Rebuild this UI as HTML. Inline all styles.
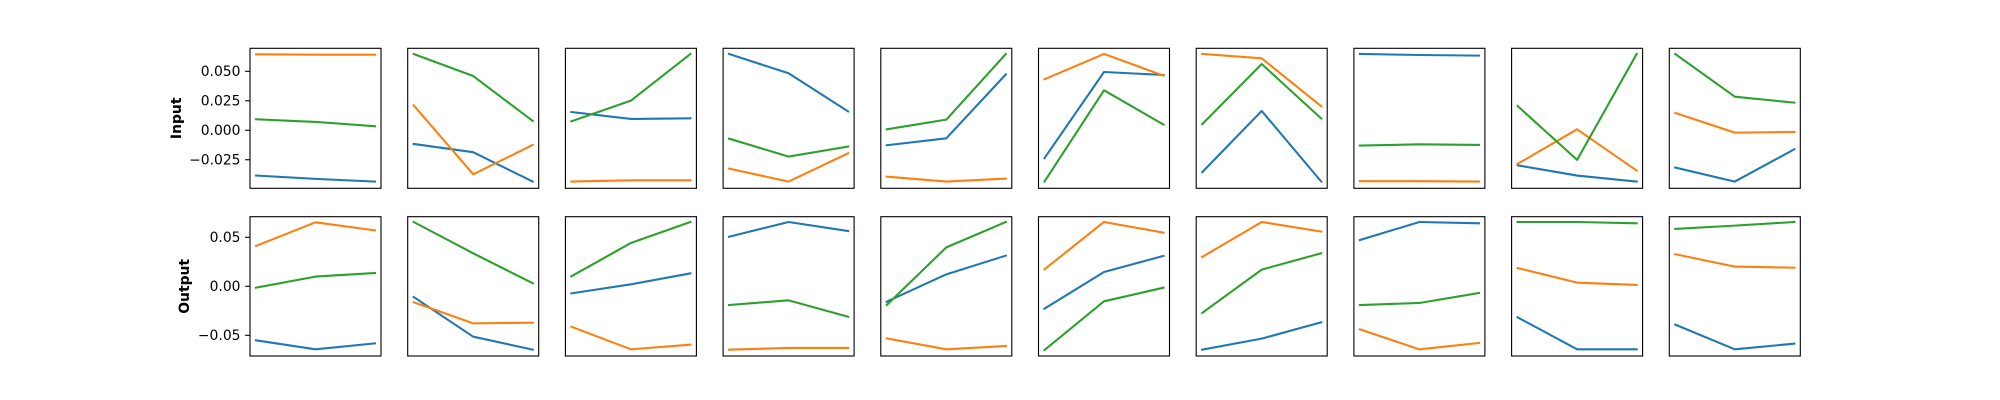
<!DOCTYPE html>
<html><head><meta charset="utf-8"><style>
html,body{margin:0;padding:0;background:#fff;width:2000px;height:400px;overflow:hidden}
text{font-family:"DejaVu Sans","Liberation Sans",sans-serif}
</style></head><body>
<svg id="chart" width="2000" height="400" xmlns="http://www.w3.org/2000/svg"></svg>
<script>
// data: [panel][point] for each series, rows "Input" and "Output"
const rowLabels = ["Input", "Output"];
const inputBlue   = [[-0.0384,-0.0412,-0.0435],[-0.0116,-0.0186,-0.0435],[0.0155,0.0096,0.0101],[0.0647,0.0483,0.0160],[-0.0127,-0.0068,0.0474],[-0.0237,0.0494,0.0469],[-0.0356,0.0164,-0.0435],[0.0647,0.0638,0.0633],[-0.0297,-0.0384,-0.0435],[-0.0316,-0.0435,-0.0161]];
const inputOrange = [[0.0644,0.0641,0.0641],[0.0212,-0.0373,-0.0124],[-0.0435,-0.0424,-0.0424],[-0.0325,-0.0435,-0.0195],[-0.0393,-0.0435,-0.0410],[0.0432,0.0647,0.0463],[0.0647,0.0610,0.0203],[-0.0432,-0.0432,-0.0435],[-0.0285,0.0008,-0.0342],[0.0147,-0.0020,-0.0014]];
const inputGreen  = [[0.0093,0.0071,0.0034],[0.0647,0.0460,0.0079],[0.0076,0.0251,0.0647],[-0.0071,-0.0223,-0.0138],[0.0008,0.0090,0.0647],[-0.0435,0.0339,0.0048],[0.0051,0.0562,0.0099],[-0.0130,-0.0119,-0.0124],[0.0206,-0.0251,0.0647],[0.0647,0.0285,0.0234]];
const outputBlue   = [[-0.0551,-0.0643,-0.0582],[-0.0109,-0.0514,-0.0646],[-0.0072,0.0020,0.0132],[0.0506,0.0656,0.0564],[-0.0157,0.0122,0.0313],[-0.0228,0.0146,0.0310],[-0.0646,-0.0534,-0.0367],[0.0472,0.0656,0.0643],[-0.0316,-0.0643,-0.0643],[-0.0391,-0.0643,-0.0585]];
const outputOrange = [[0.0412,0.0653,0.0571],[-0.0163,-0.0378,-0.0371],[-0.0412,-0.0643,-0.0595],[-0.0646,-0.0629,-0.0629],[-0.0531,-0.0643,-0.0609],[0.0173,0.0656,0.0547],[0.0299,0.0656,0.0558],[-0.0439,-0.0643,-0.0578],[0.0187,0.0037,0.0014],[0.0327,0.0201,0.0190]];
const outputGreen  = [[-0.0014,0.0099,0.0136],[0.0656,0.0337,0.0031],[0.0102,0.0442,0.0656],[-0.0191,-0.0143,-0.0310],[-0.0191,0.0397,0.0656],[-0.0650,-0.0153,-0.0014],[-0.0272,0.0170,0.0337],[-0.0191,-0.0170,-0.0068],[0.0656,0.0656,0.0643],[0.0585,0.0619,0.0656]];
const inputTicks = [0.05, 0.025, 0, -0.025];
const inputTickLabels = ["0.050","0.025","0.000","\u22120.025"];
const outputTicks = [0.05, 0, -0.05];
const outputTickLabels = ["0.05","0.00","\u22120.05"];

const NS="http://www.w3.org/2000/svg";
const svg=document.getElementById('chart');
function mk(tag,attrs,parent){const e=document.createElementNS(NS,tag);for(const k in attrs)e.setAttribute(k,attrs[k]);(parent||svg).appendChild(e);return e;}
const rows=[
 {top:48.3,bottom:188.3,ymax:0.0695,ymin:-0.0492,series:[inputBlue,inputOrange,inputGreen],ticks:inputTicks,labels:inputTickLabels,labelX:181},
 {top:216.7,bottom:356,ymax:0.0710,ymin:-0.0711,series:[outputBlue,outputOrange,outputGreen],ticks:outputTicks,labels:outputTickLabels,labelX:189}
];
const colors=["#1f77b4","#ff7f0e","#2ca02c"];
const names=["blue","orange","green"];
const W=131, X0=250, DX=157.7;
rows.forEach((r,ri)=>{
  const y=v=>r.top+(r.ymax-v)/(r.ymax-r.ymin)*(r.bottom-r.top);
  for(let p=0;p<10;p++){
    const left=X0+p*DX;
    const x=i=>left+W*(0.1+i)/2.2;
    const g=mk('g',{});
    
    
    const cp='cp'+ri+'_'+p;
    const cl=mk('clipPath',{id:cp},g);
    mk('rect',{x:left,y:r.top,width:W,height:r.bottom-r.top},cl);
    r.series.forEach((s,si)=>{
      const pts=s[p].map((v,i)=>x(i).toFixed(2)+','+y(v).toFixed(2)).join(' ');
      const pl=mk('polyline',{points:pts,fill:'none',stroke:colors[si],'stroke-width':2.08,'stroke-linejoin':'round','stroke-linecap':'square','clip-path':'url(#'+cp+')'},g);
      
      
    });
    const fr=mk('rect',{x:left,y:r.top,width:W,height:r.bottom-r.top,fill:'none',stroke:'#000','stroke-width':1.1},g);
    
    
  }
  const ax=mk('g',{});
  
  
  r.ticks.forEach((t,ti)=>{
    const yy=y(t);
    mk('line',{x1:X0-4.9,x2:X0,y1:yy,y2:yy,stroke:'#000','stroke-width':1.1},ax);
    const tx=mk('text',{x:X0-9.5,y:yy+4.8,'text-anchor':'end','font-size':13.9,fill:'#000'},ax);
    tx.textContent=r.labels[ti];
    
    
  });
  const cy=(r.top+r.bottom)/2;
  const lb=mk('text',{x:r.labelX,y:cy,'text-anchor':'middle','font-size':13.9,'font-weight':'bold',fill:'#000',transform:'rotate(-90 '+r.labelX+' '+cy+')'});
  lb.textContent=rowLabels[ri];
  
  
});
</script>
</body></html>
